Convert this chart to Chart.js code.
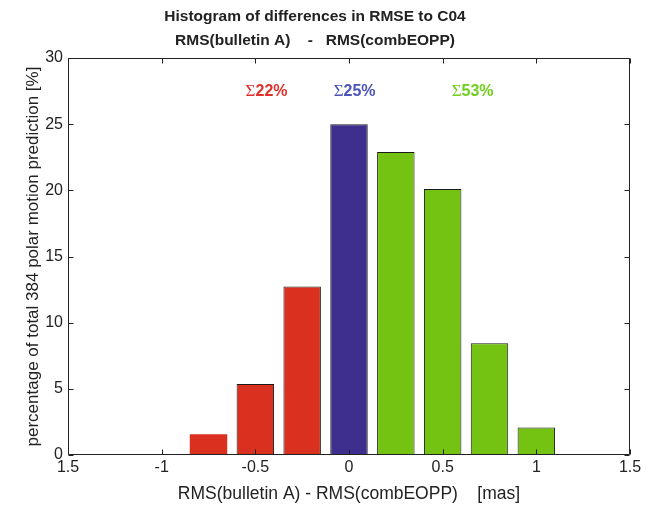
<!DOCTYPE html>
<html>
<head>
<meta charset="utf-8">
<script src="https://cdn.jsdelivr.net/npm/chart.js@4/dist/chart.umd.min.js"></script>
<style>
  html, body { margin: 0; padding: 0; background: #fff; }
  #wrap { width: 653px; height: 505px; }
</style>
</head>
<body>
<div id="wrap"><canvas id="histChart" width="653" height="505"></canvas></div>
<script>
// bin centres [mas] and share of the 384 predictions per bin [%]
const binCenters = [-0.75, -0.5, -0.25, 0, 0.25, 0.5, 0.75, 1.0];
const percentages = [1.56, 5.37, 12.74, 25.0, 22.9, 20.1, 8.45, 2.08];
const binGroup = ['neg', 'neg', 'neg', 'zero', 'pos', 'pos', 'pos', 'pos'];

const xTickValues = [-1.5, -1, -0.5, 0, 0.5, 1, 1.5];
const xTickLabels = ['1.5', '-1', '-0.5', '0', '0.5', '1', '1.5'];

// summed shares per group, placed in data coords
const sumLabels = ['22%', '25%', '53%'];
const sumGroups = ['neg', 'zero', 'pos'];
const sumAtX = [-0.44, 0.03, 0.66];
const sumAtY = 27.5;

const fillColors = { neg: '#d9301f', zero: '#3e2e8e', pos: '#74c212' };
const textColors = { neg: '#e0302a', zero: '#4b52b8', pos: '#6fcf1c' };

const sansFont = '"Liberation Sans", Arial, Helvetica, sans-serif';

// frame on all four sides + matlab style inward ticks
const frameTicks = {
    id: 'frameTicks',
    afterDraw(chart) {
        const { ctx, chartArea: a, scales } = chart;
        ctx.save();
        ctx.strokeStyle = '#222';
        ctx.lineWidth = 1;
        const L = Math.round(a.left) + 0.5, R = Math.round(a.right) - 0.5;
        const T = Math.round(a.top) + 0.5, B = Math.round(a.bottom) - 0.5;
        ctx.beginPath();
        ctx.rect(L, T, R - L, B - T);
        ctx.stroke();
        ctx.beginPath();
        xTickValues.forEach(v => {
            const px = Math.round(scales.x.getPixelForValue(v)) + 0.5;
            ctx.moveTo(px, B); ctx.lineTo(px, B - 5);
            ctx.moveTo(px, T); ctx.lineTo(px, T + 5);
        });
        scales.y.ticks.forEach(t => {
            const py = Math.round(scales.y.getPixelForValue(t.value)) + 0.5;
            ctx.moveTo(L, py); ctx.lineTo(L + 5, py);
            ctx.moveTo(R, py); ctx.lineTo(R - 5, py);
        });
        ctx.stroke();
        ctx.restore();
    }
};

// "Σnn%" group sums above the bars
const sumText = {
    id: 'sumText',
    afterDatasetsDraw(chart) {
        const { ctx, scales } = chart;
        const sigFont = '17px "Liberation Serif", "Times New Roman", serif';
        const numFont = 'bold 16px ' + sansFont;
        ctx.save();
        ctx.textBaseline = 'middle';
        ctx.textAlign = 'left';
        sumLabels.forEach((txt, i) => {
            const cx = scales.x.getPixelForValue(sumAtX[i]);
            const cy = scales.y.getPixelForValue(sumAtY);
            ctx.fillStyle = textColors[sumGroups[i]];
            ctx.font = sigFont;
            const wSig = ctx.measureText('Σ').width;
            ctx.font = numFont;
            const wTxt = ctx.measureText(txt).width;
            const x0 = cx - (wSig + wTxt) / 2;
            ctx.font = sigFont;
            ctx.fillText('Σ', x0, cy);
            ctx.font = numFont;
            ctx.fillText(txt, x0 + wSig, cy);
        });
        ctx.restore();
    }
};

new Chart(document.getElementById('histChart'), {
    type: 'bar',
    data: {
        datasets: [{
            data: binCenters.map((c, i) => ({ x: c, y: percentages[i] })),
            backgroundColor: binGroup.map(g => fillColors[g]),
            borderColor: '#1a1a1a',
            borderWidth: binCenters.map((c, i) => i === 0 ? 0 : 1),
            borderSkipped: false,
            barPercentage: 1.0,
            categoryPercentage: 0.8
        }]
    },
    options: {
        responsive: false,
        animation: false,
        layout: { padding: { left: 0, right: 23, top: 0, bottom: 0 } },
        plugins: {
            legend: { display: false },
            tooltip: { enabled: false },
            title: {
                display: true,
                text: ['Histogram of differences in RMSE to C04', 'RMS(bulletin A)    -   RMS(combEOPP)'],
                color: '#222',
                font: { family: sansFont, size: 15.5, weight: 'bold', lineHeight: 1.55 },
                padding: { top: 5, bottom: 5 }
            }
        },
        scales: {
            x: {
                type: 'linear',
                min: -1.5, max: 1.5,
                offset: false,
                grid: { display: false, offset: false, drawTicks: false },
                border: { display: false },
                afterBuildTicks: s => { s.ticks = xTickValues.map(v => ({ value: v })); },
                ticks: {
                    color: '#222',
                    font: { family: sansFont, size: 16 },
                    padding: 3,
                    maxRotation: 0,
                    autoSkip: false,
                    callback: (v, i) => xTickLabels[i]
                },
                title: {
                    display: true,
                    text: 'RMS(bulletin A) - RMS(combEOPP)    [mas]',
                    color: '#222',
                    font: { family: sansFont, size: 17.5 },
                    padding: { top: 0, bottom: 0 }
                },
                afterFit: s => { s.height = 50; }
            },
            y: {
                min: 0, max: 30,
                grid: { display: false, drawTicks: false },
                border: { display: false },
                ticks: {
                    stepSize: 5,
                    color: '#222',
                    font: { family: sansFont, size: 16 },
                    padding: 5
                },
                title: {
                    display: true,
                    text: 'percentage of total 384 polar motion prediction [%]',
                    color: '#222',
                    font: { family: sansFont, size: 17 },
                    padding: { top: 23, bottom: 0 }
                },
                afterFit: s => { s.width = 68; }
            }
        }
    },
    plugins: [frameTicks, sumText]
});
</script>
</body>
</html>
